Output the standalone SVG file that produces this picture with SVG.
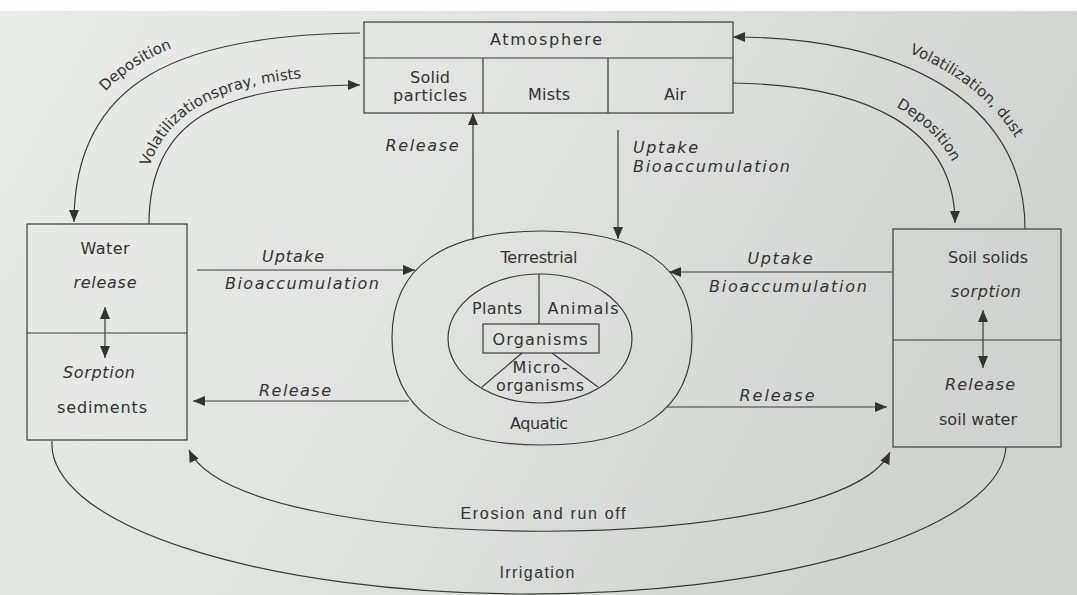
<svg xmlns="http://www.w3.org/2000/svg" width="1077" height="595" viewBox="0 0 1077 595">
<defs>
<linearGradient id="bg" x1="0" y1="0" x2="1" y2="0.3">
<stop offset="0" stop-color="#eaece8"/>
<stop offset="0.5" stop-color="#e0e3df"/>
<stop offset="1" stop-color="#d0d4d0"/>
</linearGradient>
<marker id="ah" viewBox="0 0 12 10" refX="12" refY="5" markerWidth="12" markerHeight="10" markerUnits="userSpaceOnUse" orient="auto-start-reverse">
<path d="M0,0 L12,5 L0,10 z" fill="#333"/>
</marker>
<path id="tpDepL" d="M60,222 C60,70 172,21 360,19"/>
<path id="tpVolL" d="M141,224 C141,113 213,76 360,76"/>
<path id="tpVolR" d="M733,22 C910,22 1040,96 1040,229"/>
<path id="tpDepR" d="M733,73 C876,75 966,122 966,223"/>
</defs>
<style>
.ln{fill:none;stroke:#3a3a3a;stroke-width:1.2}
.bx{fill:none;stroke:#3a3a3a;stroke-width:1.2}
text{font-family:"DejaVu Sans","Liberation Sans",sans-serif;font-size:16px;fill:#333}
.tp{font-size:15px}
.c{text-anchor:middle}
.i{font-style:italic}
.n{font-family:"Liberation Sans","DejaVu Sans",sans-serif;font-size:16px}
</style>
<rect x="0" y="0" width="1077" height="595" fill="url(#bg)"/>
<rect x="0" y="0" width="1077" height="11" fill="#ffffff"/>

<g id="connectors">
<path class="ln" d="M360,33 C180,35 74,80 74,222" marker-end="url(#ah)"/>
<path class="ln" d="M149,224 C149,120 220,85 360,85" marker-end="url(#ah)"/>
<path class="ln" d="M1025,229 C1025,100 900,37 733,37" marker-end="url(#ah)"/>
<path class="ln" d="M733,83 C870,85 955,130 955,223" marker-end="url(#ah)"/>
<path class="ln" d="M473,240 L473,113" marker-end="url(#ah)"/>
<path class="ln" d="M618,130 L618,239" marker-end="url(#ah)"/>
<path class="ln" d="M197,270 L415,270" marker-end="url(#ah)"/>
<path class="ln" d="M409,401 L193,401" marker-end="url(#ah)"/>
<path class="ln" d="M893,272 L669,272" marker-end="url(#ah)"/>
<path class="ln" d="M667,407 L887,407" marker-end="url(#ah)"/>
<path class="ln" d="M105,307 L105,358" marker-start="url(#ah)" marker-end="url(#ah)"/>
<path class="ln" d="M983,310 L983,368" marker-start="url(#ah)" marker-end="url(#ah)"/>
<path class="ln" d="M189,450 C240,558 840,558 890,452" marker-start="url(#ah)" marker-end="url(#ah)"/>
<path class="ln" d="M52,441 A477 150 0 0 0 1006,447"/>
<text class="tp"><textPath href="#tpDepL" startOffset="44%" text-anchor="middle">Deposition</textPath></text>
<text class="tp"><textPath href="#tpVolL" startOffset="58">Volatilizationspray, mists</textPath></text>
<text class="tp"><textPath href="#tpVolR" startOffset="180">Volatilization, dust</textPath></text>
<text class="tp"><textPath href="#tpDepR" startOffset="168">Deposition</textPath></text>
<text class="c i" x="422" y="151" textLength="73">Release</text>
<text class="i" x="633" y="153" textLength="65">Uptake</text>
<text class="i" x="633" y="172" textLength="157">Bioaccumulation</text>
<text class="c i" x="293" y="262" textLength="62">Uptake</text>
<text class="c i" x="302" y="289" textLength="154">Bioaccumulation</text>
<text class="c i" x="295" y="396" textLength="72">Release</text>
<text class="c i" x="780" y="264" textLength="65">Uptake</text>
<text class="c i" x="788" y="292" textLength="158">Bioaccumulation</text>
<text class="c i" x="777" y="401" textLength="75">Release</text>
<text class="c n" x="543" y="519" textLength="165">Erosion and run off</text>
<text class="c n" x="537" y="578" textLength="75">Irrigation</text>
</g>

<g id="atmosphere">
<rect class="bx" x="364" y="22" width="369" height="91"/>
<line class="ln" x1="364" y1="58" x2="733" y2="58"/>
<line class="ln" x1="483" y1="58" x2="483" y2="113"/>
<line class="ln" x1="608" y1="58" x2="608" y2="113"/>
<text class="c" x="546" y="45" textLength="112">Atmosphere</text>
<text class="c" x="430" y="83" textLength="40">Solid</text>
<text class="c" x="430" y="101" textLength="74">particles</text>
<text class="c" x="549" y="100" textLength="42">Mists</text>
<text class="c" x="675" y="100" textLength="22">Air</text>
</g>

<g id="water">
<rect class="bx" x="27" y="224" width="160" height="216"/>
<line class="ln" x1="27" y1="333" x2="187" y2="333"/>
<text class="c" x="105" y="254" textLength="49">Water</text>
<text class="c i" x="105" y="288" textLength="63">release</text>
<text class="c i" x="99" y="378" textLength="72">Sorption</text>
<text class="c" x="102" y="413" textLength="90">sediments</text>
</g>

<g id="soil">
<rect class="bx" x="893" y="229" width="168" height="218"/>
<line class="ln" x1="893" y1="340" x2="1061" y2="340"/>
<text class="c" x="988" y="263" textLength="80">Soil solids</text>
<text class="c i" x="986" y="297" textLength="70">sorption</text>
<text class="c i" x="980" y="390" textLength="70">Release</text>
<text class="c" x="978" y="425" textLength="78">soil water</text>
</g>

<g id="organisms">
<path class="ln" d="M542,231 C638,231 692,265 692,338 C692,411 638,445 542,445 C446,445 392,411 392,338 C392,265 446,231 542,231 Z"/>
<ellipse class="ln" cx="540" cy="338.5" rx="92" ry="64.5"/>
<line class="ln" x1="539" y1="274" x2="539" y2="324"/>
<rect class="bx" x="483" y="324" width="116" height="29"/>
<line class="ln" x1="522" y1="353" x2="482" y2="387"/>
<line class="ln" x1="552" y1="353" x2="598" y2="387"/>
<text class="c" x="539" y="263" textLength="77">Terrestrial</text>
<text class="c" x="497" y="314" textLength="50">Plants</text>
<text class="c" x="583" y="314" textLength="71">Animals</text>
<text class="c" x="540" y="345" textLength="95">Organisms</text>
<text class="c" x="540" y="373" textLength="55">Micro-</text>
<text class="c" x="540" y="391" textLength="88">organisms</text>
<text class="c" x="539" y="429" textLength="58">Aquatic</text>
</g>
</svg>
